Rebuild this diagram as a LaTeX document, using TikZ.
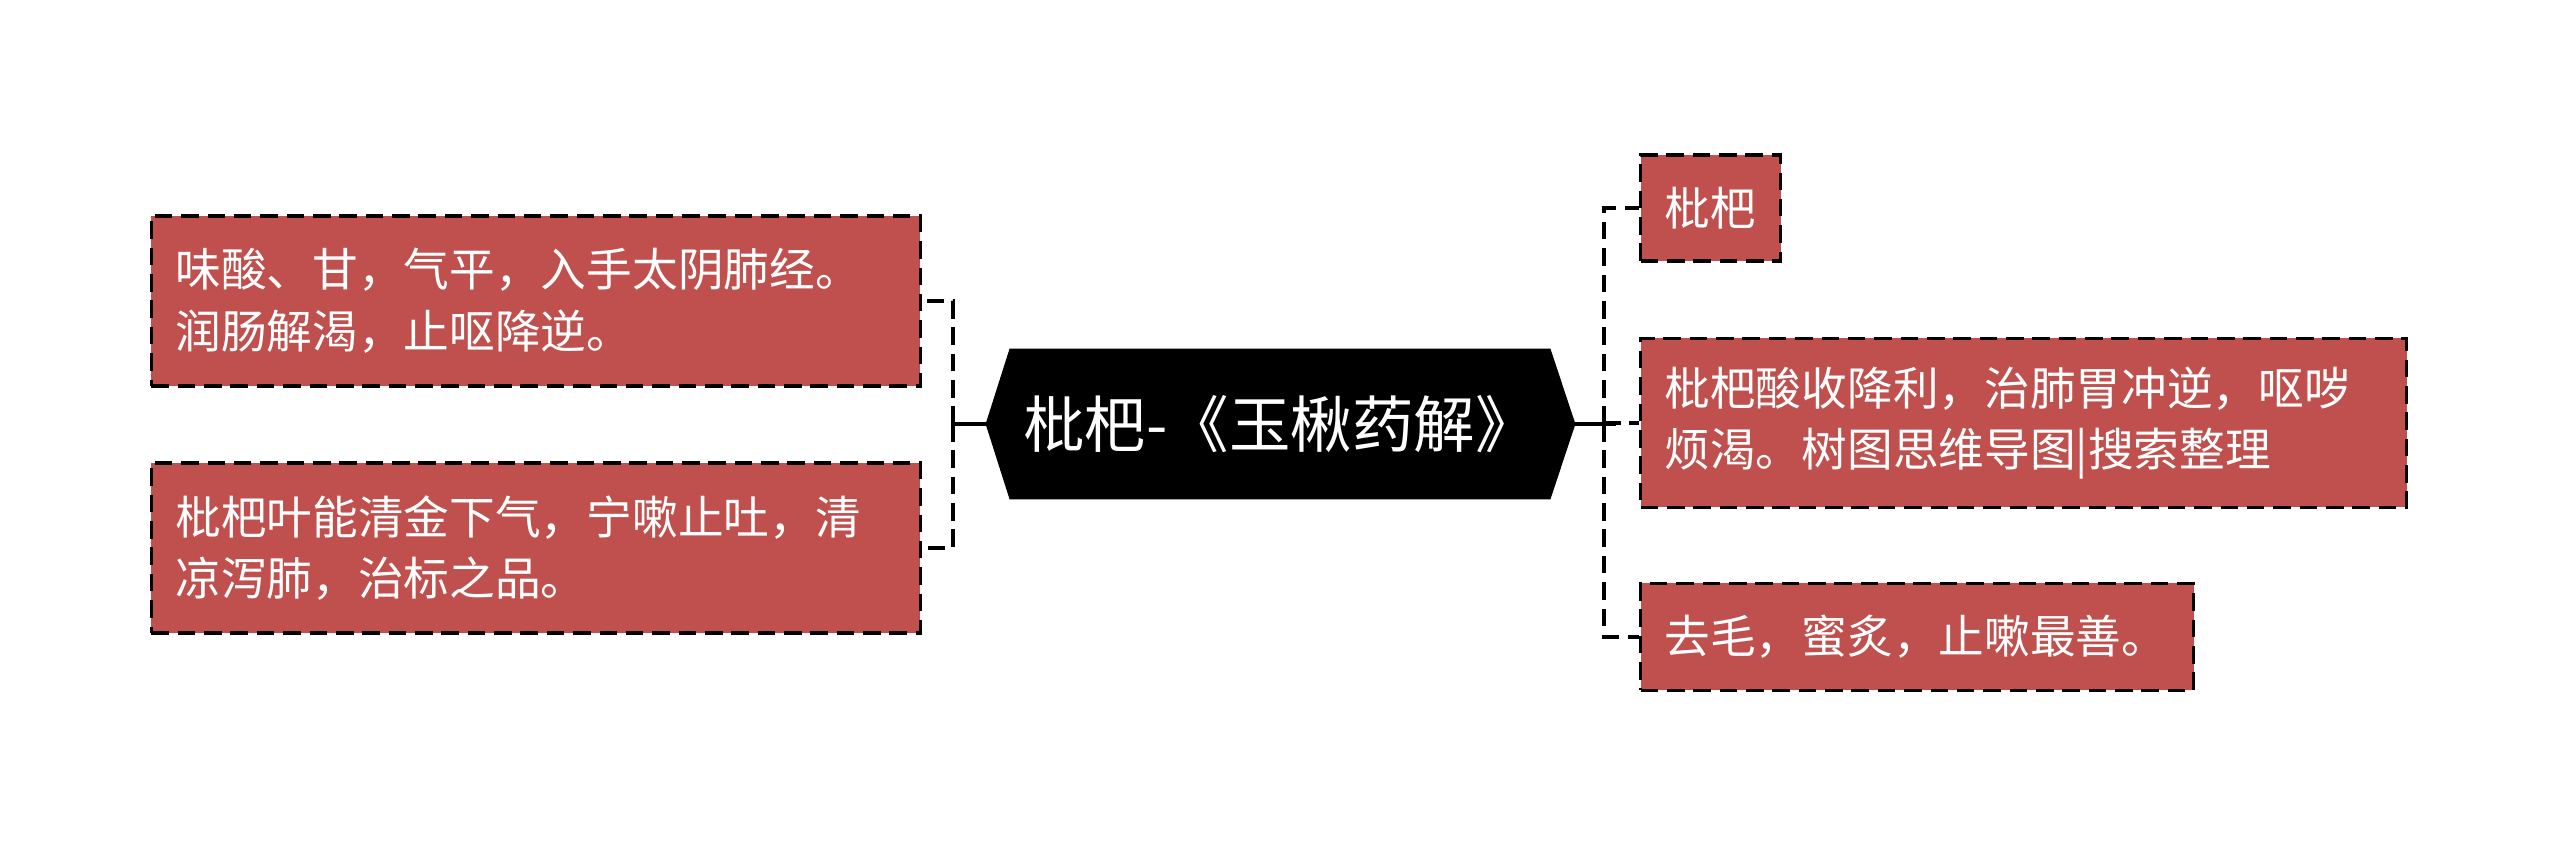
\documentclass[tikz,border=0pt]{standalone}
\usepackage{fontspec}
\setmainfont{Noto Sans CJK SC}
\usetikzlibrary{positioning,backgrounds}
\definecolor{boxred}{HTML}{C0504D}
\tikzset{
  topic/.style={draw=black, line width=0.9pt, dash pattern=on 5pt off 2.5pt,
    fill=boxred, text=white, font=\fontsize{13}{17.6}\selectfont,
    align=left, inner xsep=0.24cm, inner ysep=0pt},
  link/.style={line width=1pt, dash pattern=on 5pt off 2.5pt},
}

\begin{document}
\begin{tikzpicture}[>=latex,thick]
        \useasboundingbox (0,0) rectangle (25.6,8.49);
        % central topic
        \node[text=white,font=\fontsize{17.5}{20}\selectfont,minimum width=5.38cm,minimum height=1.48cm,inner sep=0pt] (root) at (12.80,4.25) {枇杷-《玉楸药解》};
        \begin{scope}[on background layer]
            \fill[black] (root.north west) -- (root.north east) -- ([xshift=0.25cm]root.east) coordinate (rtip)
                -- (root.south east) -- (root.south west) -- ([xshift=-0.24cm]root.west) coordinate (ltip) -- cycle;
        \end{scope}
        \coordinate (lhub) at (9.53,4.25);
        \coordinate (rhub) at (16.04,4.25);
        % left branch
        \node[topic,anchor=east,text width=7.21cm,minimum height=1.70cm] (sweet) at (9.22,5.48) {味酸、甘，气平，入手太阴肺经。\\润肠解渴，止呕降逆。};
        \node[topic,anchor=east,text width=7.21cm,minimum height=1.70cm] (leaf) at (9.22,3.01) {枇杷叶能清金下气，宁嗽止吐，清\\凉泻肺，治标之品。};
        % right branch
        \node[topic,anchor=west,text width=0.92cm,minimum height=1.06cm] (name) at (16.39,6.41) {枇杷};
        \node[topic,anchor=west,text width=7.18cm,minimum height=1.69cm] (sour) at (16.39,4.26) {枇杷酸收降利，治肺胃冲逆，呕哕\\烦渴。树图思维导图|搜索整理};
        \node[topic,anchor=west,text width=5.05cm,minimum height=1.07cm] (honey) at (16.39,2.12) {去毛，蜜炙，止嗽最善。};
        % connectors
        \draw[line width=1pt] (ltip) -- (lhub);
        \draw[line width=1pt] (rtip) -- ([xshift=0.12cm]rhub);
        \draw[link] (lhub) |- (sweet.east);
        \draw[link] (lhub) |- (leaf.east);
        \draw[link] (rhub) |- (name.west);
        \draw[link] (rhub) |- (sour.west);
        \draw[link] (rhub) |- (honey.west);
\end{tikzpicture}
\end{document}
